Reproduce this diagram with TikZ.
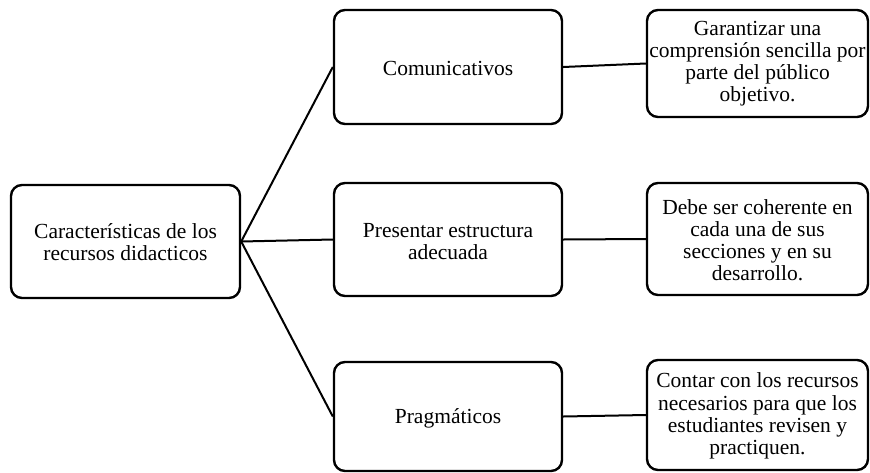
\documentclass[tikz,border=0pt]{standalone}
\usepackage{fontspec}
\setmainfont{Liberation Serif}
\begin{document}
\begin{tikzpicture}[x=1pt,y=-1pt,
  box/.style={draw, line width=2.4pt, rounded corners=11pt, inner sep=0pt},
  txt/.style={inner sep=0pt, align=center, font=\fontsize{21.5}{22.2}\selectfont},
  link/.style={line width=2pt}]
\useasboundingbox (0,0) rectangle (870,472);
% frames: root, middle column, right column
\node[box, minimum width=229pt, minimum height=113pt] (root) at (125.5,241.5) {};
\node[box, minimum width=228pt, minimum height=114pt] (com) at (448,67) {};
\node[box, minimum width=228pt, minimum height=113pt] (est) at (448,239.5) {};
\node[box, minimum width=228pt, minimum height=109pt] (pra) at (448,416.5) {};
\node[box, minimum width=221pt, minimum height=107pt] (d1) at (757.5,63.5) {};
\node[box, minimum width=221pt, minimum height=112pt] (d2) at (757.5,239) {};
\node[box, minimum width=221pt, minimum height=110pt] (d3) at (757.5,415) {};
% labels, centred in their frames
\node[txt] (rootT) at ([yshift=-0.5pt]root.center) {Características de los\\recursos didacticos};
\node[txt] (comT) at ([yshift=-1pt]com.center) {Comunicativos};
\node[txt] (estT) at ([yshift=-2pt]est.center) {Presentar estructura\\adecuada};
\node[txt] (praT) at ([yshift=-1.5pt]pra.center) {Pragmáticos};
\node[txt] (d1T) at (d1.center)
  {Garantizar una\\comprensión sencilla por\\parte del público\\objetivo.};
\node[txt] (d2T) at ([yshift=-1pt]d2.center)
  {Debe ser coherente en\\cada una de sus\\secciones y en su\\desarrollo.};
\node[txt] (d3T) at ([yshift=-1pt]d3.center)
  {Contar con los recursos\\necesarios para que los\\estudiantes revisen y\\practiquen.};
% connectors
\draw[link] (root.east) -- (com.west);
\draw[link] (root.east) -- (est.west);
\draw[link] (root.east) -- (pra.west);
\draw[link] (com.east) -- (d1.west);
\draw[link] (est.east) -- (d2.west);
\draw[link] (pra.east) -- (d3.west);
\end{tikzpicture}
\end{document}
